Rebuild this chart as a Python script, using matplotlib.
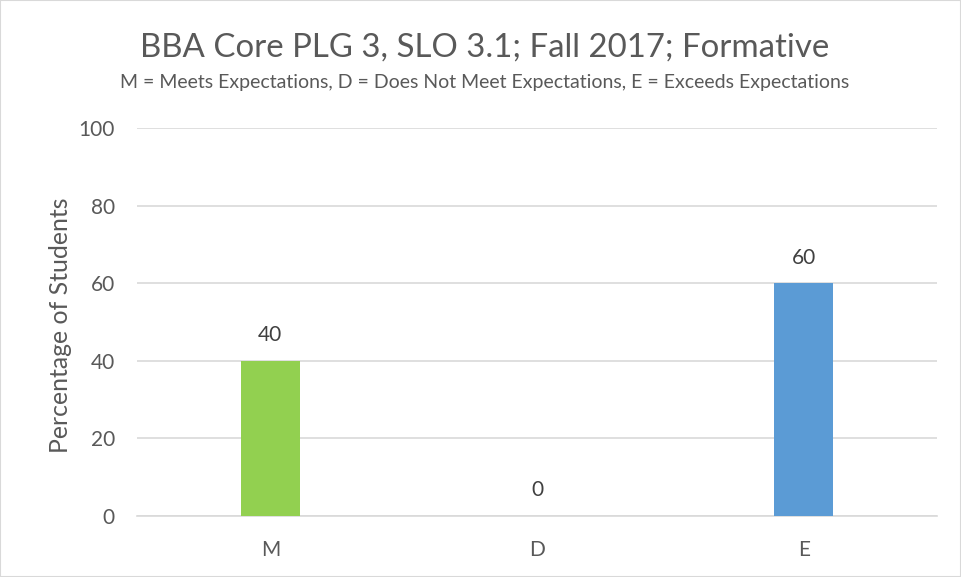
import matplotlib.pyplot as plt
from matplotlib.patches import Rectangle

# data
categories = ["M", "D", "E"]
values = [40, 0, 60]
colors = ["#92D050", "#92D050", "#5B9BD5"]
yticks = [0, 20, 40, 60, 80, 100]

title = "BBA Core PLG 3, SLO 3.1; Fall 2017; Formative"
subtitle = "M = Meets Expectations, D = Does Not Meet Expectations, E = Exceeds Expectations"
ylabel = "Percentage of Students"

plt.rcParams["font.family"] = ["Lato", "DejaVu Sans"]
txt = "#595959"
grid = "#D9D9D9"

fig = plt.figure(figsize=(9.61, 5.77), dpi=100)
ax = fig.add_axes([137 / 961, 1 - 516 / 577, 800 / 961, 388 / 577])

x = range(len(categories))
bars = ax.bar(x, values, width=0.22, color=colors, zorder=3)
for b, v in zip(bars, values):
    ax.text(b.get_x() + b.get_width() / 2, v + 4, str(v), ha="center", va="bottom",
            fontsize=15, color="#404040")

ax.set_xlim(-0.5, 2.5)
ax.set_ylim(0, 100)
ax.set_yticks(yticks)
ax.set_xticks(list(x))
ax.set_xticklabels(categories)
ax.yaxis.grid(True, color=grid, linewidth=1.2, zorder=0)
for s in ["top", "right", "left"]:
    ax.spines[s].set_visible(False)
ax.spines["bottom"].set_color(grid)
ax.spines["bottom"].set_linewidth(1.2)
ax.tick_params(axis="both", length=0, labelsize=15, colors=txt)
ax.tick_params(axis="y", pad=16)
ax.tick_params(axis="x", pad=17)
ax.set_ylabel(ylabel, fontsize=17.9, color=txt)
ax.yaxis.set_label_coords(72 / 961, 1 - 325 / 577, transform=fig.transFigure)

fig.text(485 / 961, 1 - 57 / 577, title, ha="center", va="baseline", fontsize=23.8, color=txt)
fig.text(485 / 961, 1 - 88 / 577, subtitle, ha="center", va="baseline", fontsize=14, color=txt)

fig.patches.append(Rectangle((0, 0), 1, 1, transform=fig.transFigure, fill=False,
                             edgecolor=grid, linewidth=1.5))

fig.savefig("out.png", dpi=100)
